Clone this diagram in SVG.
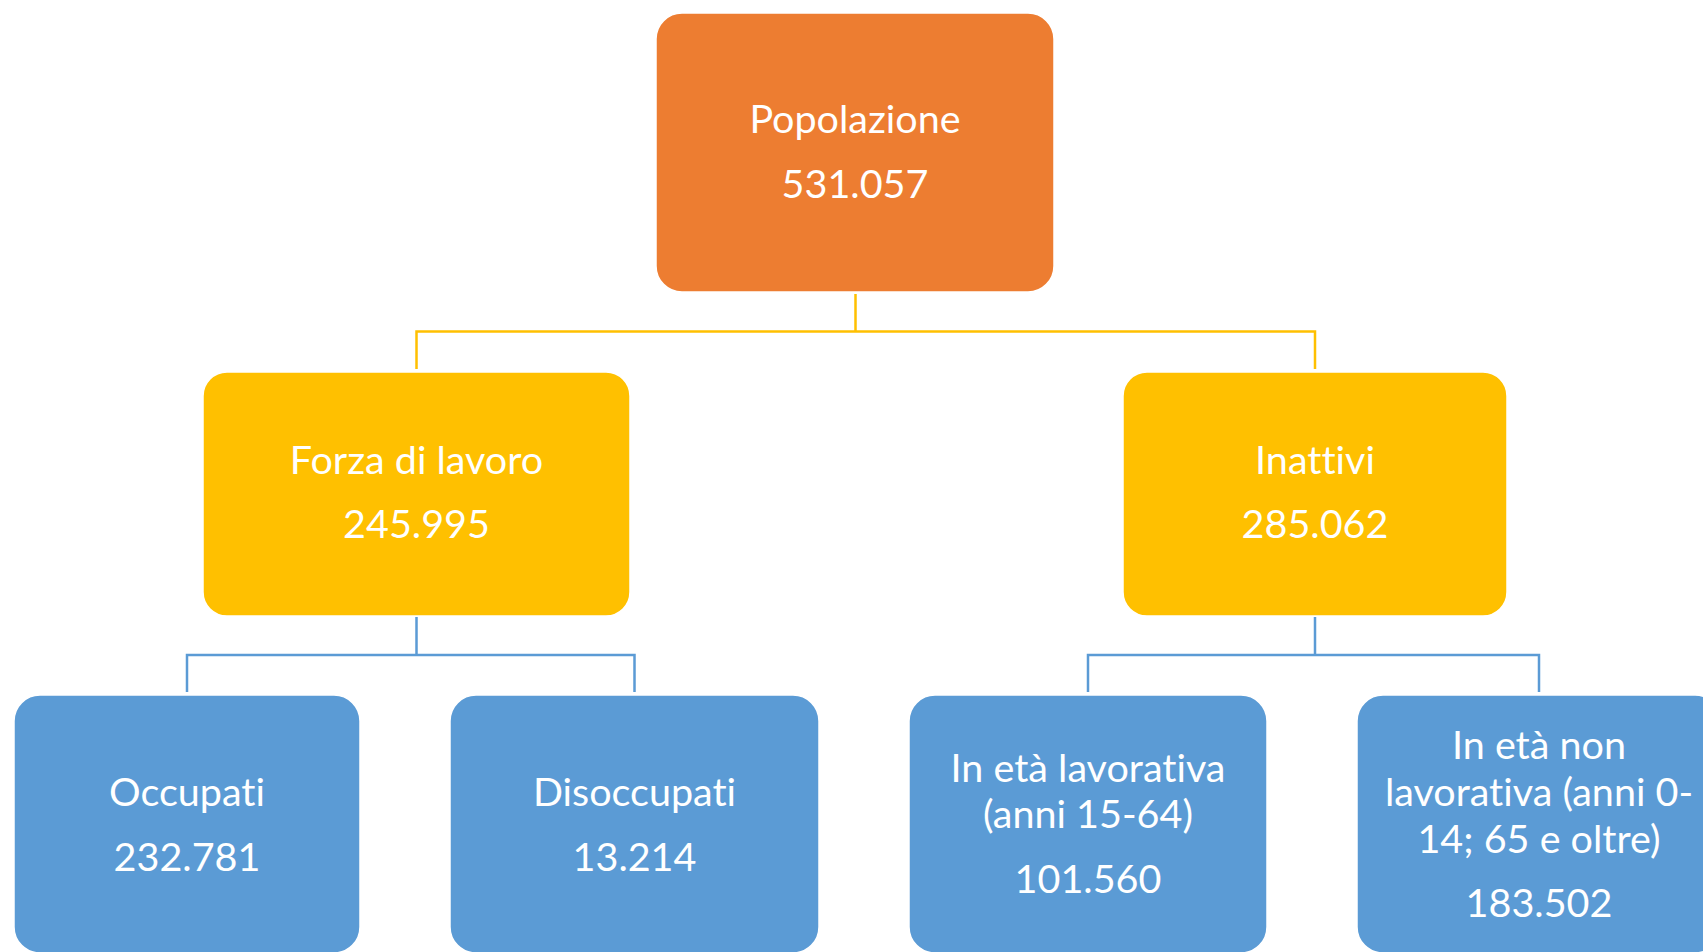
<svg xmlns="http://www.w3.org/2000/svg" width="1703" height="952" viewBox="0 0 1703 952">
<style>
.box{stroke:#ffffff;stroke-width:1.5}
.orange{fill:#ED7D31}
.yellow{fill:#FFC000}
.blue{fill:#5B9BD5}
.t{font-family:Lato,"Open Sans","Liberation Sans",sans-serif;font-size:39.5px;fill:#ffffff;text-anchor:middle;font-variant-ligatures:none;font-feature-settings:"liga" 0}
.cy{fill:none;stroke:#FFC000;stroke-width:2.5}
.cb{fill:none;stroke:#5B9BD5;stroke-width:2.5}
</style>
<rect width="1703" height="952" fill="#ffffff"/>
<g id="connectors">
<path class="cy" d="M855.5 294 V331.5 M416.5 369 V331.5 H1315 V369"/>
<path class="cb" d="M416.5 617 V655 M187 692 V655 H634.5 V692"/>
<path class="cb" d="M1315 617 V655 M1088 692 V655 H1539 V692"/>
</g>
<g id="popolazione">
<rect class="box orange" x="656" y="13" width="398" height="279" rx="26"/>
<text class="t" x="855" y="133">Popolazione</text>
<text class="t" x="855" y="198">531.057</text>
</g>
<g id="forza">
<rect class="box yellow" x="203" y="372" width="427" height="244" rx="24"/>
<text class="t" x="416.5" y="474">Forza di lavoro</text>
<text class="t" x="416.5" y="538">245.995</text>
</g>
<g id="inattivi">
<rect class="box yellow" x="1123" y="372" width="384" height="244" rx="24"/>
<text class="t" x="1315" y="474">Inattivi</text>
<text class="t" x="1315" y="538">285.062</text>
</g>
<g id="occupati">
<rect class="box blue" x="14" y="695" width="346" height="258" rx="26"/>
<text class="t" x="187" y="806">Occupati</text>
<text class="t" x="187" y="871">232.781</text>
</g>
<g id="disoccupati">
<rect class="box blue" x="450" y="695" width="369" height="258" rx="26"/>
<text class="t" x="634.5" y="806">Disoccupati</text>
<text class="t" x="634.5" y="871">13.214</text>
</g>
<g id="lavorativa">
<rect class="box blue" x="909" y="695" width="358" height="258" rx="26"/>
<text class="t" x="1088" y="782">In età lavorativa</text>
<text class="t" x="1088" y="828">(anni 15-64)</text>
<text class="t" x="1088" y="893">101.560</text>
</g>
<g id="nonlavorativa">
<rect class="box blue" x="1357" y="695" width="364" height="258" rx="26"/>
<text class="t" x="1539" y="759">In età non</text>
<text class="t" x="1539" y="806">lavorativa (anni 0-</text>
<text class="t" x="1539" y="853">14; 65 e oltre)</text>
<text class="t" x="1539" y="917">183.502</text>
</g>
</svg>
